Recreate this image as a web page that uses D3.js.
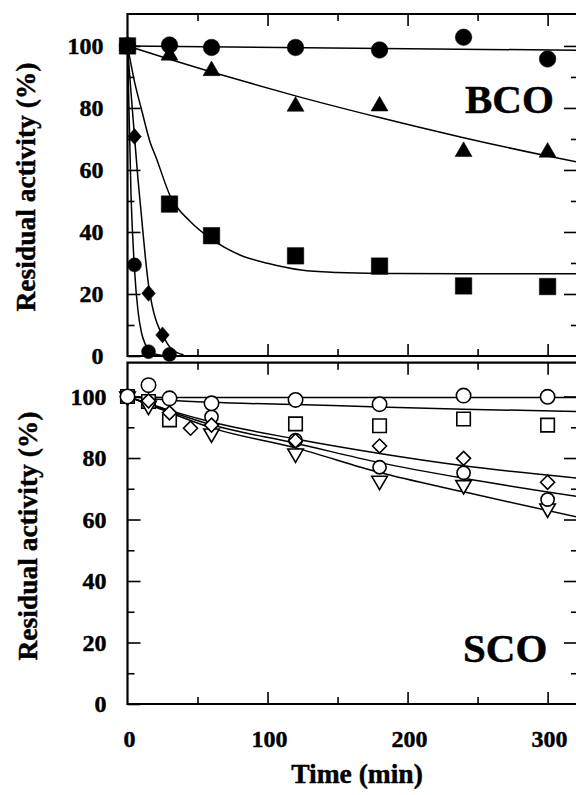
<!DOCTYPE html>
<html>
<head>
<meta charset="utf-8">
<script src="https://cdn.jsdelivr.net/npm/d3@7"></script>
<style>
  html, body { margin: 0; padding: 0; background: #fff; }
  svg { display: block; }
  text { font-family: "Liberation Serif", "Times New Roman", serif; font-weight: bold; fill: #000; stroke: #000; stroke-width: 0.45px; }
</style>
</head>
<body>
<svg id="chart" width="576" height="795"></svg>
<script>
// ---------------- data ----------------
const yTickLabels = [0, 20, 40, 60, 80, 100];
const xTickLabels = [0, 100, 200, 300];

// BCO (top panel) – filled symbols
const bcoTimes = [0, 30, 60, 120, 180, 240, 300];
const bcoCircle = [100, 100.3, 99.5, 99.5, 98.7, 102.8, 95.8];
const bcoTriangle = [100, 97, 92, 80.5, 80.6, 65.9, 65.7];
const bcoSquare = [100, 49, 38.8, 32.3, 29, 22.6, 22.4];
const bcoDiamondTimes = [0, 5, 15, 25];
const bcoDiamond = [100, 70.8, 20.2, 6.8];
const bcoDotTimes = [0, 5, 15, 30];
const bcoDot = [100, 29.4, 1.4, 0.5];

// BCO fitted curves
const bcoCircleFitT = [0, 321];
const bcoCircleFit = [100, 98.6];
const bcoTriangleFitT = [0, 30, 60, 90, 120, 180, 240, 300, 321];
const bcoTriangleFit = [100, 95.7, 91.6, 87.7, 83.9, 76.9, 70.4, 64.5, 62.6];
const bcoSquareFitT = [0, 5, 10, 16.4, 20, 30.7, 45, 59, 80.7, 100, 124, 150, 180, 240, 321];
const bcoSquareFit = [100, 88.5, 79.5, 68.6, 64.5, 51.4, 43.3, 38, 32.5, 29.9, 27.7, 26.9, 26.6, 26.5, 26.5];
const bcoDiamondFitT = [0, 2.5, 5, 7.5, 10, 12.5, 15, 17.5, 20, 22.5, 25, 30, 35, 40];
const bcoDiamondFit = [100, 85, 70.8, 57, 45, 33, 23, 16.5, 12, 9, 6.8, 3, 1.2, 0.4];
const bcoDotFitT = [0, 2.5, 5, 7.5, 10, 12.5, 15, 20, 25, 32];
const bcoDotFit = [100, 52, 28, 14.5, 7.5, 4, 2, 0.6, 0.2, 0];

// SCO (bottom panel) – open symbols
const scoCircleTimes = [0, 15, 30, 60, 120, 180, 240, 300];
const scoCircle = [100, 103.7, 99.4, 97.8, 98.9, 97.5, 100.3, 99.9];
const scoSquareTimes = [0, 15, 30, 120, 180, 240, 300];
const scoSquare = [100, 98.4, 92.4, 91.1, 90.5, 92.7, 90.7];
const scoDiamondTimes = [0, 15, 30, 45, 60, 120, 180, 240, 300];
const scoDiamond = [100, 98.6, 94.7, 89.7, 90.7, 85.6, 83.9, 79.9, 72.1];
const scoDotTimes = [0, 60, 120, 180, 240, 300];
const scoDot = [100, 93.4, 85.8, 77, 75.2, 66.5];
const scoTriangleTimes = [0, 15, 60, 120, 180, 240, 300];
const scoTriangle = [100, 97, 88, 81.5, 72.6, 71.2, 63.6];

// SCO fitted curves
const scoFitT = [0, 30, 60, 120, 180, 240, 321];
const scoCircleFit = [100, 99.7, 99.7, 99.7, 99.7, 99.7, 99.7];
const scoSquareFit = [100, 98.8, 98.1, 97.4, 96.6, 95.9, 95.1];
const scoDiamondFit = [100, 95.5, 91.7, 86.2, 81.5, 77.5, 73.5];
const scoDotFit = [100, 95.2, 90.8, 84.8, 78.5, 73.4, 67.5];
const scoTriangleFit = [100, 94.8, 89.8, 83.3, 75.3, 69, 60.8];

// ---------------- layout ----------------
const svg = d3.select("#chart");
const x = d3.scaleLinear().domain([0, 321]).range([127.5, 577]);
const yTop = d3.scaleLinear().domain([0, 110.3]).range([356, 14]);
const yBot = d3.scaleLinear().domain([0, 111]).range([704, 362.7]);

const zip = (t, v) => t.map((d, i) => [d, v[i]]);

function drawPanel(g, y, labelEnd) {
  const x0 = x.range()[0], x1 = x.range()[1];
  const yb = y.range()[0], yt = y.range()[1];
  g.append("g").attr("transform", `translate(${x0},0)`)
    .call(d3.axisLeft(y).tickValues(yTickLabels).tickSizeInner(-13).tickSizeOuter(0)
      .tickPadding(x0 - labelEnd).tickFormat(d3.format("d")))
    .call(s => s.select(".domain").remove())
    .call(s => s.selectAll("line").attr("stroke", "#000").attr("stroke-width", 1.6))
    .call(s => s.selectAll("text").attr("font-size", 24).attr("fill", "#000")
      .attr("font-family", "Liberation Serif, Times New Roman, serif").attr("font-weight", "bold"));
  g.append("g").attr("transform", `translate(${x0},0)`)
    .call(d3.axisLeft(y).tickValues([10, 30, 50, 70, 90]).tickSizeInner(-7).tickSizeOuter(0).tickFormat(""))
    .call(s => s.select(".domain").remove())
    .call(s => s.selectAll("line").attr("stroke", "#000").attr("stroke-width", 1.6));
  g.append("g").attr("transform", `translate(${x1},0)`)
    .call(d3.axisRight(y).tickValues(yTickLabels.slice(1)).tickSizeInner(-13).tickSizeOuter(0).tickFormat(""))
    .call(s => s.select(".domain").remove())
    .call(s => s.selectAll("line").attr("stroke", "#000").attr("stroke-width", 1.6));
  g.append("g").attr("transform", `translate(${x1},0)`)
    .call(d3.axisRight(y).tickValues([10, 30, 50, 70, 90]).tickSizeInner(-6).tickSizeOuter(0).tickFormat(""))
    .call(s => s.select(".domain").remove())
    .call(s => s.selectAll("line").attr("stroke", "#000").attr("stroke-width", 1.6));
  [[d3.axisTop, yt], [d3.axisBottom, yb]].forEach(([ax, yy]) => {
    g.append("g").attr("transform", `translate(0,${yy})`)
      .call(ax(x).tickValues([100, 200, 300]).tickSizeInner(-12).tickSizeOuter(0).tickFormat(""))
      .call(s => s.select(".domain").remove())
      .call(s => s.selectAll("line").attr("stroke", "#000").attr("stroke-width", 1.6));
    g.append("g").attr("transform", `translate(0,${yy})`)
      .call(ax(x).tickValues([50, 150, 250]).tickSizeInner(-7).tickSizeOuter(0).tickFormat(""))
      .call(s => s.select(".domain").remove())
      .call(s => s.selectAll("line").attr("stroke", "#000").attr("stroke-width", 1.6));
  });
  g.append("path")
    .attr("d", `M${x1},${yt}H${x0}V${yb}H${x1}`)
    .attr("fill", "none").attr("stroke", "#000").attr("stroke-width", 2.2);
}

const gTop = svg.append("g");
const gBot = svg.append("g");
drawPanel(gTop, yTop, 103.5);
drawPanel(gBot, yBot, 106.5);

function curve(g, y, t, v) {
  const line = d3.line().x(d => x(d[0])).y(d => y(d[1])).curve(d3.curveMonotoneX);
  g.append("path").datum(zip(t, v)).attr("d", line)
    .attr("fill", "none").attr("stroke", "#000").attr("stroke-width", 1.5);
}

const shapes = {
  circle: r => `M${r},0A${r},${r} 0 1,1 ${-r},0A${r},${r} 0 1,1 ${r},0Z`,
  square: s => `M${-s/2},${-s/2}H${s/2}V${s/2}H${-s/2}Z`,
  diamond: (w, h) => `M0,${-h}L${w},0L0,${h}L${-w},0Z`,
  triUp: s => { const h = s * Math.sqrt(3) / 2; return `M0,${-2*h/3}L${s/2},${h/3}L${-s/2},${h/3}Z`; },
  triDown: s => { const h = s * Math.sqrt(3) / 2; return `M0,${2*h/3}L${s/2},${-h/3}L${-s/2},${-h/3}Z`; }
};

function marks(g, y, t, v, d, filled) {
  g.append("g").selectAll("path").data(zip(t, v)).join("path")
    .attr("transform", p => `translate(${x(p[0])},${y(p[1])})`)
    .attr("d", d)
    .attr("fill", filled ? "#000" : "#fff")
    .attr("stroke", "#000")
    .attr("stroke-width", filled ? 0.5 : 1.6);
}

// ---- top panel (BCO)
curve(gTop, yTop, bcoCircleFitT, bcoCircleFit);
curve(gTop, yTop, bcoTriangleFitT, bcoTriangleFit);
curve(gTop, yTop, bcoSquareFitT, bcoSquareFit);
curve(gTop, yTop, bcoDiamondFitT, bcoDiamondFit);
curve(gTop, yTop, bcoDotFitT, bcoDotFit);
marks(gTop, yTop, bcoTimes, bcoTriangle, shapes.triUp(17), true);
marks(gTop, yTop, bcoTimes, bcoCircle, shapes.circle(8.3), true);
marks(gTop, yTop, bcoDiamondTimes, bcoDiamond, shapes.diamond(6.8, 8), true);
marks(gTop, yTop, bcoDotTimes, bcoDot, shapes.circle(7), true);
marks(gTop, yTop, bcoTimes, bcoSquare, shapes.square(16.5), true);

// ---- bottom panel (SCO)
curve(gBot, yBot, scoFitT, scoCircleFit);
curve(gBot, yBot, scoFitT, scoSquareFit);
curve(gBot, yBot, scoFitT, scoDiamondFit);
curve(gBot, yBot, scoFitT, scoDotFit);
curve(gBot, yBot, scoFitT, scoTriangleFit);
marks(gBot, yBot, scoSquareTimes, scoSquare, shapes.square(13.5), false);
marks(gBot, yBot, scoTriangleTimes, scoTriangle, shapes.triDown(15.5), false);
marks(gBot, yBot, scoDotTimes, scoDot, shapes.circle(6.6), false);
marks(gBot, yBot, scoDiamondTimes, scoDiamond, shapes.diamond(7, 7), false);
marks(gBot, yBot, scoCircleTimes, scoCircle, shapes.circle(7.2), false);

// ---- x tick labels
svg.append("g").attr("transform", "translate(0,722)")
  .call(d3.axisBottom(x).tickValues(xTickLabels).tickSize(0).tickPadding(0).tickFormat(d3.format("d")))
  .call(s => s.select(".domain").remove())
  .call(s => s.selectAll("text").attr("font-size", 24).attr("fill", "#000")
    .attr("dy", "0").attr("y", 25).attr("dx", 1.5)
    .attr("font-family", "Liberation Serif, Times New Roman, serif").attr("font-weight", "bold"));

// ---- titles
svg.append("text").attr("x", 357).attr("y", 783).attr("text-anchor", "middle")
  .attr("font-size", 27.5).text("Time (min)");
svg.append("text").attr("transform", "translate(35,187) rotate(-90)").attr("text-anchor", "middle")
  .attr("font-size", 27.5).text("Residual activity (%)");
svg.append("text").attr("transform", "translate(37,536) rotate(-90)").attr("text-anchor", "middle")
  .attr("font-size", 27.5).text("Residual activity (%)");
svg.append("text").attr("x", 465).attr("y", 113).attr("font-size", 41).text("BCO");
svg.append("text").attr("x", 463).attr("y", 662).attr("font-size", 41).text("SCO");
</script>
</body>
</html>
